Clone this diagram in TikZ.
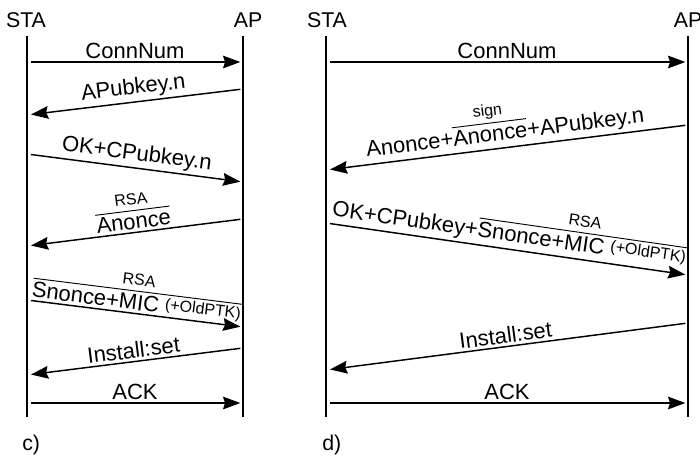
\documentclass[tikz,border=0pt]{standalone}
\usepackage{fontspec}
\setmainfont{Liberation Sans}
\usepackage{amsmath}
\usetikzlibrary{arrows.meta}

% encrypted / signed field: key name over a bar
\newcommand{\sealed}[2]{$\overset{\text{\fontsize{12}{14}\selectfont #1}}{\overline{\text{#2}}}$}
\newcommand{\oldptk}{\raisebox{3pt}{\fontsize{12}{14}\selectfont(+OldPTK)}}

\begin{document}
\begin{tikzpicture}[x=0.75pt, y=-0.75pt,
    >={Stealth[length=13pt,width=9.5pt,inset=1.5pt]},
    head/.style={font=\fontsize{16}{19}\selectfont, anchor=base, inner sep=0pt},
    lifeline/.style={line width=1.5pt},
    msg/.style={->, line width=1.1pt},
    toap/.style={msg, shorten <=3pt, shorten >=2pt},
    tosta/.style={msg, shorten <=2pt, shorten >=3pt},
    lbl/.style={above, sloped, inner sep=2pt, font=\fontsize{16.5}{19}\selectfont}]

    \useasboundingbox (0,0) rectangle (700,456);

    % c) ----------------------------------------------------------
    \node[head] (cSTA) at (26,28) {STA};
    \node[head] (cAP) at (248,28) {AP};
    \coordinate (cS) at (27,36);
    \coordinate (cA) at (243,36);
    \draw[lifeline] (cS) -- (cS |- 0,417);
    \draw[lifeline] (cA) -- (cA |- 0,417);

    \draw[toap] (cS |- 0,62) -- node[lbl]{ConnNum} (cA |- 0,62);
    \draw[tosta] (cA |- 0,89) -- node[lbl]{APubkey.n} (cS |- 0,115);
    \draw[toap] (cS |- 0,154) -- node[lbl]{OK+CPubkey.n} (cA |- 0,182);
    \draw[tosta] (cA |- 0,219) -- node[lbl]{\sealed{RSA}{Anonce}} (cS |- 0,246);
    \draw[toap] (cS |- 0,300) -- node[lbl]{\sealed{RSA}{Snonce+MIC \oldptk}} (cA |- 0,327);
    \draw[tosta] (cA |- 0,348) -- node[lbl]{Install:set} (cS |- 0,375);
    \draw[toap] (cS |- 0,403) -- node[lbl]{ACK} (cA |- 0,403);

    \node[head, anchor=base west] (cCap) at (22,450) {c)};

    % d) ----------------------------------------------------------
    \node[head] (dSTA) at (327,28) {STA};
    \node[head] (dAP) at (688,28) {AP};
    \coordinate (dS) at (326,36);
    \coordinate (dA) at (688,36);
    \draw[lifeline] (dS) -- (dS |- 0,417);
    \draw[lifeline] (dA) -- (dA |- 0,417);

    \draw[toap] (dS |- 0,62) -- node[lbl]{ConnNum} (dA |- 0,62);
    \draw[tosta] (dA |- 0,125) -- node[lbl]{Anonce+\sealed{sign}{Anonce}+APubkey.n} (dS |- 0,170);
    \draw[toap] (dS |- 0,223) -- node[lbl]{OK+CPubkey+\sealed{RSA}{Snonce+MIC \oldptk}} (dA |- 0,275);
    \draw[tosta] (dA |- 0,323) -- node[lbl]{Install:set} (dS |- 0,370);
    \draw[toap] (dS |- 0,403) -- node[lbl]{ACK} (dA |- 0,403);

    \node[head, anchor=base west] (dCap) at (322,450) {d)};
\end{tikzpicture}
\end{document}
